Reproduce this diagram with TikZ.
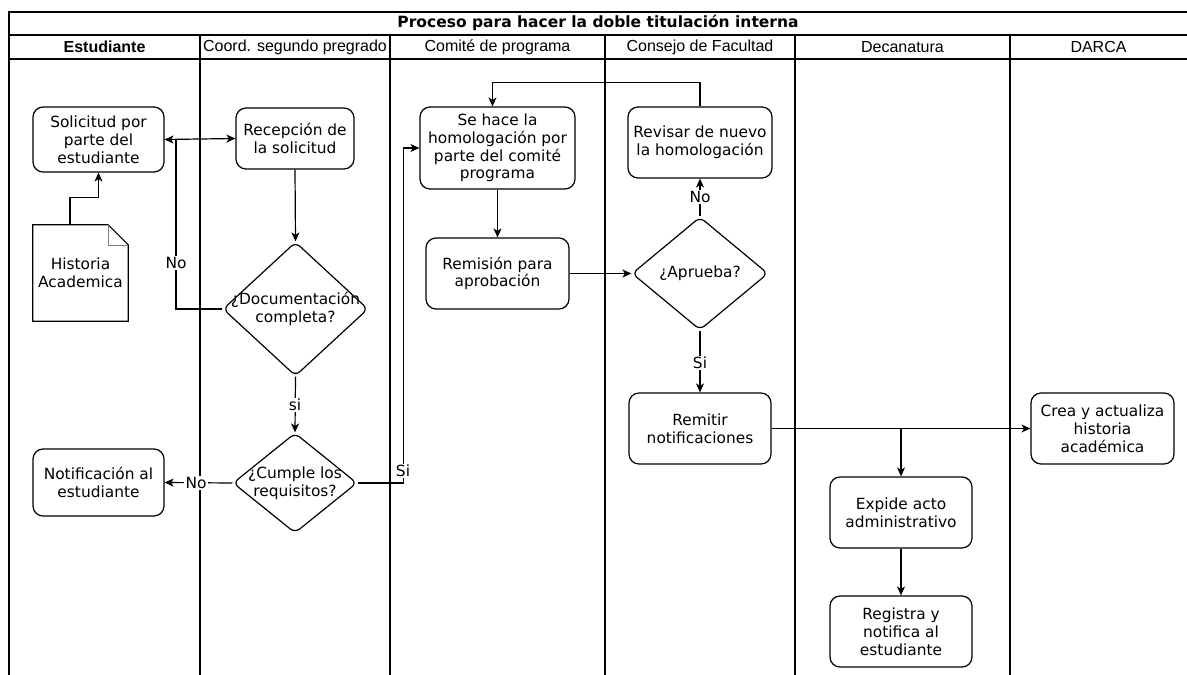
\documentclass[tikz,border=0pt]{standalone}
\usepackage{fontspec}
\setmainfont{DejaVu Sans}
\newfontfamily\hdfont{Liberation Sans}
\usetikzlibrary{shapes.geometric,arrows.meta,calc}
\begin{document}
\begin{tikzpicture}[x=1pt,y=-1pt,
  every node/.style={font=\fontsize{15.4}{17.8}\selectfont, inner sep=0pt},
  box/.style={draw, rounded corners=10pt, line width=1.2pt, align=center},
  dia/.style={draw, diamond, rounded corners=6pt, line width=1.2pt},
  txt/.style={align=center},
  arr/.style={line width=1.2pt, -{Stealth[length=9pt,width=8pt,inset=2.5pt]}},
  lbl/.style={fill=white, inner sep=1.5pt},
  lane/.style={line width=1.3pt},
  hd/.style={font=\hdfont\fontsize{16}{19}\selectfont},
  ttl/.style={font=\bfseries\fontsize{15.5}{18}\selectfont}]
\useasboundingbox (0,0) rectangle (1187,675);
\fill[white] (0,0) rectangle (1187,675);
% ---- swimlane table ----
\draw[lane] (9,675) -- (9,12) -- (1187,12);
\draw[lane] (9,35) -- (1187,35);
\draw[lane] (9,59) -- (1187,59);
\foreach \xx in {200,390,605,795,1010} \draw[lane] (\xx,35) -- (\xx,675);
\node[ttl] (title) at (598,23) {Proceso para hacer la doble titulación interna};
\node[hd, font=\hdfont\bfseries\fontsize{16}{19}\selectfont] (h1) at (104.5,47) {Estudiante};
\node[hd] (h2) at (295,47) {Coord. segundo pregrado};
\node[hd] (h3) at (497.5,47) {Comité de programa};
\node[hd] (h4) at (700,47) {Consejo de Facultad};
\node[hd] (h5) at (902.5,47) {Decanatura};
\node[hd] (h6) at (1098.5,47) {DARCA};
% ---- nodes ----
\node[box, minimum width=131pt, minimum height=65pt] (sol) at (98.5,139.5) {Solicitud por\\parte del\\estudiante};
\node[box, minimum width=118pt, minimum height=61pt] (rec) at (295,138.5) {Recepción de\\la solicitud};
\node[box, minimum width=131pt, minimum height=67pt] (notif) at (98.5,482.5) {Notificación al\\estudiante};
\node[txt, minimum width=95pt, minimum height=96pt] (hist) at (80.5,273) {Historia\\Academica};
\draw[line width=1.2pt] (hist.north west) -- ([xshift=-20pt]hist.north east) -- ([yshift=-20pt]hist.north east) -- (hist.south east) -- (hist.south west) -- cycle;
\draw[line width=0.6pt, gray] ([xshift=-20pt]hist.north east) -- ([xshift=-20pt,yshift=-20pt]hist.north east) -- ([yshift=-20pt]hist.north east);
\node[box, minimum width=155pt, minimum height=82pt] (hom) at (497.5,148) {Se hace la\\homologación por\\parte del comité\\programa};
\node[box, minimum width=143pt, minimum height=71pt] (rem) at (497.5,273.5) {Remisión para\\aprobación};
\node[box, minimum width=144pt, minimum height=71pt] (rev) at (700,142.5) {Revisar de nuevo\\la homologación};
\node[box, minimum width=142pt, minimum height=71pt] (remit) at (700,428.5) {Remitir\\notificaciones};
\node[box, minimum width=143pt, minimum height=71pt] (crea) at (1102.5,428.5) {Crea y actualiza\\historia\\académica};
\node[box, minimum width=142pt, minimum height=71pt] (exp) at (901,512.5) {Expide acto\\administrativo};
\node[box, minimum width=142pt, minimum height=71pt] (reg) at (901,631.5) {Registra y\\notifica al\\estudiante};
\node[dia, minimum width=145pt, minimum height=134pt] (doc) at (295.5,309) {};
\node[txt] (doct) at (doc) {¿Documentación\\completa?};
\node[dia, minimum width=124pt, minimum height=100pt] (cum) at (295,483) {};
\node[txt] (cumt) at (cum) {¿Cumple los\\requisitos?};
\node[dia, minimum width=136pt, minimum height=113pt] (apr) at (700,273.5) {};
\node[txt] (aprt) at (apr) {¿Aprueba?};
% ---- connectors ----
\draw[arr] ([xshift=-10.5pt]hist.north) -- ++(0,-27) -| (sol.south);
\draw[arr] (sol.east) -- (rec.west);
\draw[arr] (rec.south) -- (doc.north);
\draw[arr] (doc.west) -- ++(-46.5,0) |- (sol.east);
\draw[arr] (doc.south) -- (cum.north);
\draw[arr] (cum.west) -- (notif.east);
\draw[arr] (cum.east) -- ++(46,0) |- (hom.west);
\draw[arr] (hom.south) -- (rem.north);
\draw[arr] (rem.east) -- (apr.west);
\draw[arr] (apr.north) -- (rev.south);
\draw[arr] (rev.north) -- ++(0,-24) -| ([xshift=-5pt]hom.north);
\draw[arr] (apr.south) -- (remit.north);
\draw[arr] (remit.east) -- (crea.west);
\draw[arr] (remit.east -| exp.north) -- (exp.north);
\draw[arr] (exp.south) -- (reg.north);
% ---- labels ----
\node[lbl] (l1) at (176,263) {No};
\node[lbl] (l2) at (295,405) {si};
\node[lbl] (l3) at (196,483) {No};
\node[lbl] (l4) at (403,471) {Si};
\node[lbl] (l5) at (700,197) {No};
\node[lbl] (l6) at (700,363) {Si};
\end{tikzpicture}
\end{document}
